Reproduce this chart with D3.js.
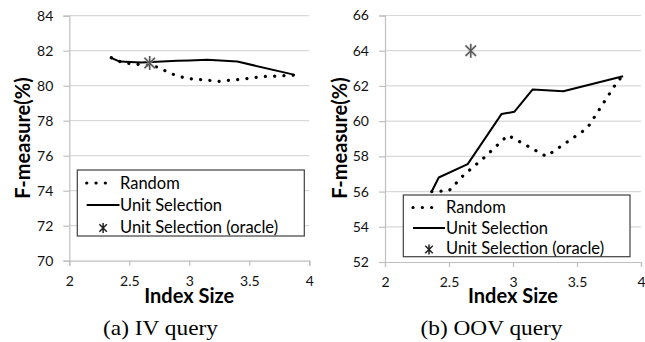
<!DOCTYPE html>
<html>
<head>
<meta charset="utf-8">
<script src="https://cdn.jsdelivr.net/npm/d3@7"></script>
<style>
  html, body { margin: 0; padding: 0; background: #fff; }
  svg { display: block; }
</style>
</head>
<body>
<svg id="chart" width="645" height="342"></svg>
<script>
// ---------------- data ----------------
const xTicks = [2, 2.5, 3, 3.5, 4];
const ivYTicks = [70, 72, 74, 76, 78, 80, 82, 84];
const oovYTicks = [52, 54, 56, 58, 60, 62, 64, 66];

const seriesNames = ["Random", "Unit Selection", "Unit Selection (oracle)"];
const captions = ["(a) IV query", "(b) OOV query"];
const xTitle = "Index Size";
const yTitle = "F-measure(%)";

// IV query
const ivRandomX = [2.35, 2.45, 2.6, 2.7, 2.9, 3.0, 3.12, 3.25, 3.45, 3.6, 3.75, 3.88];
const ivRandomY = [81.6, 81.3, 81.2, 81.15, 80.55, 80.4, 80.33, 80.25, 80.38, 80.52, 80.56, 80.6];
const ivUnitX = [2.34, 2.42, 2.6, 2.9, 3.0, 3.15, 3.4, 3.88];
const ivUnitY = [81.62, 81.38, 81.33, 81.42, 81.44, 81.48, 81.38, 80.62];
const ivOracleX = [2.67];
const ivOracleY = [81.3];

// OOV query
const oovRandomX = [2.365, 2.5, 2.61, 2.77, 2.96, 3.26, 3.58, 3.82, 3.88];
const oovRandomY = [56.0, 56.05, 56.9, 57.9, 59.2, 58.0, 59.6, 62.3, 62.7];
const oovUnitX = [2.365, 2.42, 2.646, 2.91, 3.01, 3.154, 3.393, 3.86];
const oovUnitY = [56.0, 56.8, 57.56, 60.4, 60.53, 61.8, 61.7, 62.55];
const oovOracleX = [2.67];
const oovOracleY = [64.0];

// ---------------- drawing ----------------
const svg = d3.select("#chart");
const FONT = "Lato, 'Open Sans', 'DejaVu Sans', sans-serif";
const SERIF = "'Liberation Serif', 'DejaVu Serif', serif";

const panels = [
  {
    yDomain: [70, 84], yTicks: ivYTicks,
    xRange: [69.3, 309.3], yRange: [260.7, 15.7],
    randomX: ivRandomX, randomY: ivRandomY,
    unitX: ivUnitX, unitY: ivUnitY,
    oracleX: ivOracleX, oracleY: ivOracleY,
    caption: captions[0], captionX: 160.5, captionW: 115, yTitleX: 22.5,
    legend: { x0: 77.3, x1: 304.3, y0: 170, y1: 236, rows: [183, 205, 227], s0: 86.7, s1: 119.5, tx: 120 }
  },
  {
    yDomain: [52, 66], yTicks: oovYTicks,
    xRange: [385, 641], yRange: [262, 15.5],
    randomX: oovRandomX, randomY: oovRandomY,
    unitX: oovUnitX, unitY: oovUnitY,
    oracleX: oovOracleX, oracleY: oovOracleY,
    caption: captions[1], captionX: 491.5, captionW: 142, yTitleX: 340,
    legend: { x0: 403.3, x1: 630, y0: 195, y1: 256.7, rows: [207.5, 228, 248.5], s0: 413, s1: 445, tx: 446 }
  }
];

function starPath(cx, cy, r) {
  const d = r * 0.75;
  return `M${cx - d},${cy - d}L${cx + d},${cy + d}M${cx - d},${cy + d}L${cx + d},${cy - d}M${cx},${cy - r}L${cx},${cy + r}`;
}

panels.forEach(p => {
  const x = d3.scaleLinear().domain([2, 4]).range(p.xRange);
  const y = d3.scaleLinear().domain(p.yDomain).range(p.yRange);
  const g = svg.append("g");

  // gridlines
  g.append("g").selectAll("line").data(p.yTicks.slice(1)).join("line")
    .attr("x1", p.xRange[0]).attr("x2", p.xRange[1])
    .attr("y1", d => y(d)).attr("y2", d => y(d))
    .attr("stroke", "#d9d9d9").attr("stroke-width", 1.2);

  // y axis
  const yAxis = g.append("g").attr("transform", `translate(${p.xRange[0]},0)`)
    .call(d3.axisLeft(y).tickValues(p.yTicks).tickSize(6).tickPadding(10).tickFormat(d3.format("d")));
  yAxis.select(".domain").attr("stroke", "#bfbfbf").attr("stroke-width", 1.2);
  yAxis.selectAll(".tick line").attr("stroke", "#bfbfbf").attr("stroke-width", 1.2);
  yAxis.selectAll(".tick text").attr("font-family", FONT).attr("font-size", 14).attr("fill", "#111");

  // x axis
  const xAxis = g.append("g").attr("transform", `translate(0,${p.yRange[0]})`)
    .call(d3.axisBottom(x).tickValues(xTicks).tickSize(5).tickFormat(d => d3.format("")(d)));
  xAxis.select(".domain").attr("stroke", "#bfbfbf").attr("stroke-width", 1.2);
  xAxis.selectAll(".tick line").attr("stroke", "#bfbfbf").attr("stroke-width", 1.2);
  xAxis.selectAll(".tick text").attr("font-family", FONT).attr("font-size", 14).attr("fill", "#111")
    .attr("dy", 0).attr("y", 25);

  // titles
  g.append("text").text(xTitle)
    .attr("x", (p.xRange[0] + p.xRange[1]) / 2).attr("y", 303)
    .attr("text-anchor", "middle").attr("font-family", FONT).attr("font-weight", "bold")
    .attr("font-size", 20).attr("fill", "#000");
  g.append("text").text(yTitle)
    .attr("transform", `translate(${p.yTitleX},138) rotate(-90)`)
    .attr("text-anchor", "middle").attr("dy", "0.35em")
    .attr("font-family", FONT).attr("font-weight", "bold")
    .attr("font-size", 20).attr("fill", "#000");

  // caption
  g.append("text").text(p.caption)
    .attr("x", p.captionX - p.captionW / 2).attr("y", 335)
    .attr("textLength", p.captionW).attr("lengthAdjust", "spacingAndGlyphs")
    .attr("font-family", SERIF)
    .attr("font-size", 21).attr("fill", "#000");

  const line = d3.line().x(d => x(d[0])).y(d => y(d[1]));

  // random (dotted)
  g.append("path").datum(d3.zip(p.randomX, p.randomY))
    .attr("d", line).attr("fill", "none").attr("stroke", "#000")
    .attr("stroke-width", 3.2).attr("stroke-linecap", "round").attr("stroke-dasharray", "0.1 9.2");

  // unit selection (solid)
  g.append("path").datum(d3.zip(p.unitX, p.unitY))
    .attr("d", line).attr("fill", "none").attr("stroke", "#000")
    .attr("stroke-width", 2).attr("stroke-linejoin", "round");

  // oracle (star)
  d3.zip(p.oracleX, p.oracleY).forEach(d => {
    g.append("path").attr("d", starPath(x(d[0]), y(d[1]), 7))
      .attr("stroke", "#c8c8c8").attr("stroke-width", 3).attr("fill", "none").attr("opacity", 0.6);
    g.append("path").attr("d", starPath(x(d[0]), y(d[1]), 7))
      .attr("stroke", "#555").attr("stroke-width", 1.4).attr("fill", "none");
  });

  // legend
  const L = p.legend;
  g.append("rect").attr("x", L.x0).attr("y", L.y0)
    .attr("width", L.x1 - L.x0).attr("height", L.y1 - L.y0)
    .attr("fill", "#fff").attr("stroke", "#404040").attr("stroke-width", 1.2);
  g.append("line").attr("x1", L.s0).attr("x2", L.s1 - 6).attr("y1", L.rows[0]).attr("y2", L.rows[0])
    .attr("stroke", "#000").attr("stroke-width", 3.2).attr("stroke-linecap", "round").attr("stroke-dasharray", "0.1 9.2");
  g.append("line").attr("x1", L.s0).attr("x2", L.s1).attr("y1", L.rows[1]).attr("y2", L.rows[1])
    .attr("stroke", "#000").attr("stroke-width", 2);
  g.append("path").attr("d", starPath((L.s0 + L.s1) / 2, L.rows[2] + 1, 5))
    .attr("stroke", "#222").attr("stroke-width", 1.5).attr("fill", "none");
  g.selectAll(".legtext").data(seriesNames).join("text")
    .attr("x", L.tx).attr("y", (d, i) => L.rows[i]).attr("dy", "0.35em")
    .attr("font-family", FONT).attr("font-size", 16.5).attr("fill", "#000")
    .text(d => d);
});
</script>
</body>
</html>
